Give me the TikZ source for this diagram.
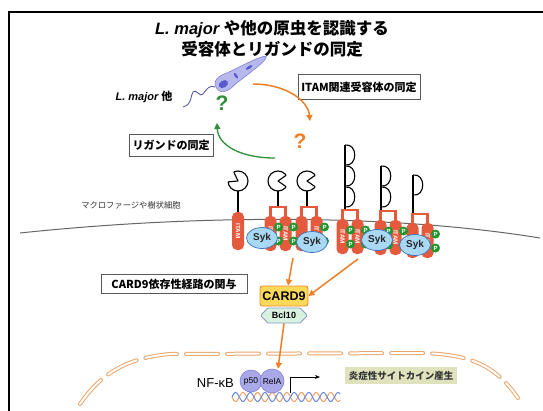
\documentclass[tikz,border=0pt]{standalone}
\usepackage{fontspec}
\setmainfont{Liberation Sans}
\newfontfamily\jp{Noto Sans CJK JP}
\usetikzlibrary{arrows.meta,shapes.geometric,shapes.misc}

\definecolor{itamred}{HTML}{E5593D}
\definecolor{pgreen}{HTML}{22962E}
\definecolor{sykfill}{HTML}{A9D8F4}
\definecolor{sykdraw}{HTML}{3B73B9}
\definecolor{orangeA}{HTML}{EE7F26}
\definecolor{greenA}{HTML}{2F8F3A}
\definecolor{cardfill}{HTML}{FAD95A}
\definecolor{carddraw}{HTML}{EF8A2C}
\definecolor{bclfill}{HTML}{D9F2DF}
\definecolor{bcldraw}{HTML}{7F9CCB}
\definecolor{lav}{HTML}{B7B9EE}
\definecolor{lavd}{HTML}{7C80CC}
\definecolor{kdark}{HTML}{5A5AD0}
\definecolor{flag}{HTML}{4A4AA8}
\definecolor{nucor}{HTML}{EBA66E}
\definecolor{olive}{HTML}{DFE2BC}
\definecolor{nfk}{HTML}{A9A9EA}
\definecolor{nfkd}{HTML}{7777CC}
\definecolor{dnaor}{HTML}{F0A060}
\definecolor{dnabl}{HTML}{6A86E0}

% lectin head: centre x, centre y, radius, direction of the notch
\newcommand\lectinhead[4]{%
  \filldraw[headline] (#1,#2) circle[radius=#3];
  \fill[white] (#1,#2) -- ++({#4-35}:{1.6*#3}) -- ++({#4+90}:{1.84*#3}) -- cycle;
  \draw[stem, line join=round] (#1,#2) ++({#4-35}:#3) -- (#1,#2) -- ++({#4+35}:#3);
}

\begin{document}
\begin{tikzpicture}[x=1pt,y=-1pt,
  lbl/.style={draw=black!65, line width=0.8pt, fill=white, inner sep=0pt,
    font=\jp\bfseries\fontsize{11}{12}\selectfont},
  oarrow/.style={draw=orangeA, line width=1.5pt, -{Triangle[length=6pt,width=6pt]}},
  garrow/.style={draw=greenA, line width=1.3pt, -{Triangle[length=6pt,width=6pt]}},
  stem/.style={line width=1.1pt, draw=black},
  headline/.style={line width=1.1pt, draw=black, fill=white},
  bracket/.style={draw=itamred, line width=2.2pt},
  pill/.style={fill=itamred, rounded corners=5pt},
  itamtxt/.style={text=white, font=\bfseries\fontsize{6.3}{7}\selectfont, rotate=-90, inner sep=0pt},
  pnode/.style={circle, fill=pgreen, text=white, font=\bfseries\fontsize{6}{6}\selectfont,
    minimum size=9pt, inner sep=0pt},
  syk/.style={ellipse, fill=sykfill, draw=sykdraw, line width=0.7pt, minimum width=31pt,
    minimum height=21pt, inner sep=0pt, font=\bfseries\fontsize{10}{11}\selectfont, text=black!85},
  nucleus/.style={draw=nucor, line width=1pt, double=white, double distance=2pt,
    dash pattern=on 32pt off 9pt, line cap=round},
  qmark/.style={font=\bfseries\fontsize{21}{22}\selectfont, inner sep=0pt},
]
\useasboundingbox (0,0) rectangle (543,410);
\fill[white] (0,0) rectangle (543,410);
% outer frame
\draw[line width=1.6pt] (9,440) -- (9,12) -- (560,12);

% title
\node[font=\bfseries\fontsize{16.5}{18}\selectfont] (title1) at (272,29)
  {{\itshape L. major} {\jp や他の原虫を認識する}};
\node[font=\jp\bfseries\fontsize{16.5}{18}\selectfont] (title2) at (272,49)
  {受容体とリガンドの同定};

% parasite
\begin{scope}[shift={(241,72.5)}, rotate=32]
  \filldraw[fill=lav, draw=lavd, line width=0.6pt]
    (-29,0) .. controls (-29,-9) and (-19,-9) .. (-12,-7)
    .. controls (0,-5.5) and (20,-4.5) .. (28,-1.5)
    .. controls (30.5,-0.6) and (30.5,0.6) .. (28,1.5)
    .. controls (20,4.5) and (0,5.5) .. (-12,7)
    .. controls (-19,9) and (-29,9) .. cycle;
  \fill[kdark] (-21,0.5) ellipse[x radius=5, y radius=3.5];
  \fill[kdark] (-6,0) ellipse[x radius=1.3, y radius=3.2];
  \fill[kdark] (9.5,0) ellipse[x radius=3.8, y radius=1.4];
\end{scope}
\draw[flag, line width=0.8pt] (215,87) .. controls (210,84) and (206,90) .. (203,94)
  .. controls (200,98) and (196,88) .. (193,92) .. controls (190,96) and (193,104) .. (183,107);

\node[font=\bfseries\fontsize{11}{12}\selectfont] (lmajor) at (144,97)
  {{\itshape L. major} {\jp 他}};

% question marks
\node[qmark, text=greenA] (gq) at (222,103) {?};
\node[qmark, text=orangeA] (oq) at (300,141) {?};

% labels
\node[lbl, minimum width=122pt, minimum height=25pt] (itamlbl) at (359,87) {ITAM関連受容体の同定};
\node[lbl, minimum width=84pt, minimum height=22pt] (liglbl) at (171,145) {リガンドの同定};
\node[lbl, minimum width=146pt, minimum height=19pt] (cardlbl) at (174,284) {CARD9依存性経路の関与};

% identification arrows
\coordinate (oa1) at (253,84);
\coordinate (oa2) at (310,121);
\draw[oarrow] (oa1) .. controls (285,84) and (308,100) .. (oa2);
\coordinate (ga1) at (275,158);
\coordinate (ga2) at (217,123);
\draw[garrow] (ga1) .. controls (240,158) and (218,145) .. (ga2);

% cell membrane
\draw[black!60, line width=1pt] (20,233) .. controls (180,216) and (380,212) .. (540,238);
\node[font=\jp\fontsize{8.3}{9}\selectfont, text=black!80] (cellname) at (131,205) {マクロファージや樹状細胞};

% lectin-type receptors
\draw[stem] (238,191) -- (238,212);
\draw[stem] (278,191) -- (278,207);
\draw[stem] (307,191) -- (307,207);
\lectinhead{238}{181}{10}{-150}
\lectinhead{278}{181}{10}{0}
\lectinhead{307}{181}{10}{0}

% coiled receptors
\foreach \s/\t/\n/\b in {345/145/3/210, 381/166/2/211, 413/175/1/214}{
  \draw[stem] (\s,\t) -- (\s,\b);
  \foreach \k in {1,...,\n}{
    \draw[stem] (\s,{\t+21*(\k-1)}) .. controls ({\s+13},{\t+21*(\k-1)-2})
      and ({\s+13},{\t+21*\k+1}) .. (\s,{\t+21*\k-1});
  }
}

% single ITAM of the first receptor
\fill[pill] (232,212) rectangle (244,250);
\node[itamtxt] (itam1) at (238,231) {ITAM};

% ITAM dimers
\foreach \s/\b/\c in {278/207/278, 307/207/309, 345/210/350, 381/211/388, 413/214/420}{
  \draw[bracket] ({\c-7.5},{\b+10}) -- ({\c-7.5},\b) -- ({\c+7.5},\b) -- ({\c+7.5},{\b+10});
  \fill[pill] ({\c-13.5},{\b+9}) rectangle ({\c-1.5},{\b+44});
  \fill[pill] ({\c+1.5},{\b+9}) rectangle ({\c+13.5},{\b+44});
}
% phosphorylated tyrosines beside the chains
\foreach \x/\b in {278.5/207, 293.5/207, 324.5/207, 350.5/210, 365.5/210,
                   388.5/211, 403.5/211, 435.5/214}{
  \node[pnode] (pa\x) at (\x,{\b+20}) {P};
  \node[pnode] (pb\x) at (\x,{\b+34}) {P};
}
% ITAM labels on the chains that stay visible
\foreach \x/\b in {270.5/207, 285.5/207, 316.5/207, 342.5/210, 357.5/210, 395.5/211, 427.5/214}{
  \node[itamtxt] (itam\x) at (\x,{\b+26.5}) {ITAM};
}

% Syk kinases
\node[syk] (syk1) at (262,238) {Syk};
\node[syk] (syk2) at (312,242) {Syk};
\node[syk] (syk3) at (377,240) {Syk};
\node[syk] (syk4) at (415,245) {Syk};

% CARD9 / Bcl10
\node[rectangle, rounded corners=2.5pt, fill=cardfill, draw=carddraw, line width=0.9pt,
  minimum width=48pt, minimum height=20pt, inner sep=0pt,
  font=\bfseries\fontsize{12.5}{13}\selectfont] (card9) at (284,296) {CARD9};
\node[chamfered rectangle, chamfered rectangle xsep=3pt, fill=bclfill, draw=bcldraw,
  line width=0.8pt, minimum width=45pt, minimum height=15pt, inner sep=0pt,
  font=\bfseries\fontsize{9}{10}\selectfont] (bcl10) at (284,315.5) {Bcl10};

\coordinate (ar1s) at (293,258);
\coordinate (ar2s) at (358,259);
\draw[oarrow] (ar1s) -- ([xshift=4pt]card9.north);
\draw[oarrow] (ar2s) -- (card9.east);

% nucleus
\draw[nucleus] (80,404) .. controls (100,375) and (125,358) .. (170,354) -- (420,353)
  .. controls (470,354) and (495,365) .. (518,398);

% DNA
\draw[dnaor, line width=1pt] plot[domain=232:340, samples=160, smooth] (\x,{397+4.5*sin((\x-232)*24.6)});
\draw[dnabl, line width=1pt] plot[domain=232:340, samples=160, smooth] (\x,{397-4.5*sin((\x-232)*24.6)});

% NF-kB
\node[circle, fill=nfk, draw=nfkd, line width=0.5pt, minimum size=22pt, inner sep=0pt,
  font=\fontsize{8.5}{9}\selectfont] (p50) at (251,381) {p50};
\node[circle, fill=nfk, draw=nfkd, line width=0.5pt, minimum size=24pt, inner sep=0pt,
  font=\fontsize{8.5}{9}\selectfont] (rela) at (272,381) {RelA};
\node[font=\fontsize{13}{14}\selectfont, anchor=east, inner sep=0pt] (nfkb) at (234,383) {NF-κB};
\draw[oarrow] (bcl10.south) -- ([xshift=6pt]rela.north);

% transcription start
\coordinate (tss0) at (290,393);
\coordinate (tss1) at (320,377);
\draw[line width=0.8pt, -{Stealth[length=5pt,width=4pt]}] (tss0) |- (tss1);

\node[fill=olive, minimum width=112pt, minimum height=17pt, inner sep=0pt,
  font=\jp\bfseries\fontsize{9.5}{10}\selectfont, text=black!80] (cyto) at (401,375.5)
  {炎症性サイトカイン産生};
\end{tikzpicture}
\end{document}
